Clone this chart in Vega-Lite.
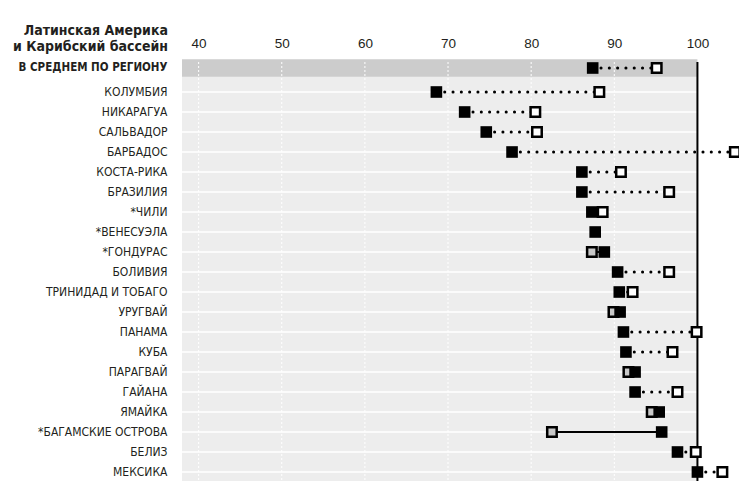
{
  "$schema": "https://vega.github.io/schema/vega-lite/v6.json",
  "width": 557,
  "height": 420,
  "autosize": "none",
  "padding": {"left": 182, "top": 62, "right": 0, "bottom": 0},
  "background": "white",
  "view": {"stroke": null},
  "title": {
    "text": ["Латинская Америка", "и Карибский бассейн"],
    "anchor": "start",
    "frame": "group",
    "align": "right",
    "orient": "top",
    "dx": -14,
    "dy": 18,
    "offset": 0,
    "font": "DejaVu Sans Condensed, Roboto",
    "fontWeight": "bold",
    "fontSize": 14,
    "lineHeight": 16,
    "color": "#231f20"
  },
  "datasets": {
    "rows": [
      {"name": "В СРЕДНЕМ ПО РЕГИОНУ", "v1": 87.4, "v2": 95.1, "kind": "up", "avg": true},
      {"name": "КОЛУМБИЯ", "v1": 68.6, "v2": 88.2, "kind": "up", "avg": false},
      {"name": "НИКАРАГУА", "v1": 72.0, "v2": 80.5, "kind": "up", "avg": false},
      {"name": "САЛЬВАДОР", "v1": 74.6, "v2": 80.7, "kind": "up", "avg": false},
      {"name": "БАРБАДОС", "v1": 77.7, "v2": 104.5, "kind": "up", "avg": false},
      {"name": "КОСТА-РИКА", "v1": 86.1, "v2": 90.8, "kind": "up", "avg": false},
      {"name": "БРАЗИЛИЯ", "v1": 86.1, "v2": 96.6, "kind": "up", "avg": false},
      {"name": "*ЧИЛИ", "v1": 87.3, "v2": 88.6, "kind": "up", "avg": false},
      {"name": "*ВЕНЕСУЭЛА", "v1": 87.7, "v2": null, "kind": "none", "avg": false},
      {"name": "*ГОНДУРАС", "v1": 88.8, "v2": 87.3, "kind": "down", "avg": false},
      {"name": "БОЛИВИЯ", "v1": 90.4, "v2": 96.6, "kind": "up", "avg": false},
      {"name": "ТРИНИДАД И ТОБАГО", "v1": 90.6, "v2": 92.2, "kind": "up", "avg": false},
      {"name": "УРУГВАЙ", "v1": 90.7, "v2": 89.9, "kind": "down", "avg": false},
      {"name": "ПАНАМА", "v1": 91.1, "v2": 99.9, "kind": "up", "avg": false},
      {"name": "КУБА", "v1": 91.4, "v2": 97.0, "kind": "up", "avg": false},
      {"name": "ПАРАГВАЙ", "v1": 92.5, "v2": 91.7, "kind": "down", "avg": false},
      {"name": "ГАЙАНА", "v1": 92.5, "v2": 97.6, "kind": "up", "avg": false},
      {"name": "ЯМАЙКА", "v1": 95.4, "v2": 94.5, "kind": "down", "avg": false},
      {"name": "*БАГАМСКИЕ ОСТРОВА", "v1": 95.7, "v2": 82.5, "kind": "down", "avg": false},
      {"name": "БЕЛИЗ", "v1": 97.6, "v2": 99.8, "kind": "up", "avg": false},
      {"name": "МЕКСИКА", "v1": 100.0, "v2": 103.0, "kind": "up", "avg": false}
    ],
    "grid": [{"v": 40}, {"v": 50}, {"v": 60}, {"v": 70}, {"v": 80}, {"v": 90}],
    "one": [{"v": 100}]
  },
  "layer": [
    {
      "data": {"name": "one"},
      "mark": {"type": "rect", "fill": "#ededed"},
      "encoding": {
        "x": {"datum": 38, "type": "quantitative", "scale": {"domain": [38, 105], "nice": false, "zero": false},
          "axis": {"orient": "top", "values": [40, 50, 60, 70, 80, 90, 100], "domain": false, "ticks": false, "grid": false, "title": null,
            "labelFont": "Liberation Sans, Roboto", "labelFontSize": 13.5, "labelColor": "#231f20", "labelPadding": 12}},
        "x2": {"datum": 100}
      }
    },
    {
      "data": {"name": "rows"},
      "transform": [{"filter": "datum.avg"}],
      "mark": {"type": "rect", "fill": "#cccccc", "height": {"band": 0.885}, "yOffset": -4},
      "encoding": {
        "y": {"field": "name", "type": "nominal",
          "scale": {"domain": ["В СРЕДНЕМ ПО РЕГИОНУ", "КОЛУМБИЯ", "НИКАРАГУА", "САЛЬВАДОР", "БАРБАДОС", "КОСТА-РИКА", "БРАЗИЛИЯ", "*ЧИЛИ", "*ВЕНЕСУЭЛА", "*ГОНДУРАС", "БОЛИВИЯ", "ТРИНИДАД И ТОБАГО", "УРУГВАЙ", "ПАНАМА", "КУБА", "ПАРАГВАЙ", "ГАЙАНА", "ЯМАЙКА", "*БАГАМСКИЕ ОСТРОВА", "БЕЛИЗ", "МЕКСИКА"], "paddingInner": 0, "paddingOuter": 0},
          "axis": {"orient": "left", "title": null, "domain": false, "ticks": false, "grid": false, "labelPadding": 15,
            "labelFont": "DejaVu Sans Condensed, Roboto", "labelColor": "#231f20",
            "labelOffset": {"condition": {"test": "datum.value === 'В СРЕДНЕМ ПО РЕГИОНУ'", "value": -4}, "value": 0},
            "labelFontSize": {"condition": {"test": "datum.value === 'В СРЕДНЕМ ПО РЕГИОНУ'", "value": 11.5}, "value": 12},
            "labelFontWeight": {"condition": {"test": "datum.value === 'В СРЕДНЕМ ПО РЕГИОНУ'", "value": "bold"}, "value": "normal"}}},
        "x": {"datum": 38, "type": "quantitative"},
        "x2": {"datum": 100}
      }
    },
    {
      "data": {"name": "grid"},
      "mark": {"type": "rule", "stroke": "white", "strokeWidth": 1, "strokeDash": [2, 2]},
      "encoding": {"x": {"field": "v", "type": "quantitative"}}
    },
    {
      "data": {"name": "rows"},
      "transform": [{"filter": "!datum.avg"}],
      "mark": {"type": "rule", "stroke": "white", "strokeWidth": 1.5},
      "encoding": {
        "y": {"field": "name", "type": "nominal"},
        "x": {"datum": 38, "type": "quantitative"},
        "x2": {"datum": 100}
      }
    },
    {
      "data": {"name": "one"},
      "mark": {"type": "rule", "stroke": "black", "strokeWidth": 2},
      "encoding": {"x": {"field": "v", "type": "quantitative"}}
    },
    {
      "data": {"name": "rows"},
      "transform": [{"filter": "datum.kind === 'up' && !datum.avg"}],
      "mark": {"type": "rule", "stroke": "black", "strokeWidth": 3, "strokeCap": "round", "strokeDash": [0.1, 8.2]},
      "encoding": {
        "y": {"field": "name", "type": "nominal"},
        "x": {"field": "v1", "type": "quantitative"},
        "x2": {"field": "v2"}
      }
    },
    {
      "data": {"name": "rows"},
      "transform": [{"filter": "datum.avg"}],
      "mark": {"type": "rule", "stroke": "black", "strokeWidth": 3, "strokeCap": "round", "strokeDash": [0.1, 8.2], "yOffset": -4},
      "encoding": {
        "y": {"field": "name", "type": "nominal"},
        "x": {"field": "v1", "type": "quantitative"},
        "x2": {"field": "v2"}
      }
    },
    {
      "data": {"name": "rows"},
      "transform": [{"filter": "datum.kind === 'down'"}],
      "mark": {"type": "rule", "stroke": "black", "strokeWidth": 2},
      "encoding": {
        "y": {"field": "name", "type": "nominal"},
        "x": {"field": "v1", "type": "quantitative"},
        "x2": {"field": "v2"}
      }
    },
    {
      "data": {"name": "rows"},
      "transform": [{"filter": "datum.kind === 'down'"}],
      "mark": {"type": "point", "shape": "square", "filled": true, "fill": "#c8c8c8", "stroke": "black", "strokeWidth": 2.5, "size": 90, "opacity": 1},
      "encoding": {
        "y": {"field": "name", "type": "nominal"},
        "x": {"field": "v2", "type": "quantitative"}
      }
    },
    {
      "data": {"name": "rows"},
      "transform": [{"filter": "!datum.avg"}],
      "mark": {"type": "point", "shape": "square", "filled": true, "fill": "black", "strokeWidth": 0, "size": 135, "opacity": 1},
      "encoding": {
        "y": {"field": "name", "type": "nominal"},
        "x": {"field": "v1", "type": "quantitative"}
      }
    },
    {
      "data": {"name": "rows"},
      "transform": [{"filter": "datum.avg"}],
      "mark": {"type": "point", "shape": "square", "filled": true, "fill": "black", "strokeWidth": 0, "size": 135, "opacity": 1, "yOffset": -4},
      "encoding": {
        "y": {"field": "name", "type": "nominal"},
        "x": {"field": "v1", "type": "quantitative"}
      }
    },
    {
      "data": {"name": "rows"},
      "transform": [{"filter": "datum.kind === 'up' && !datum.avg"}],
      "mark": {"type": "point", "shape": "square", "filled": true, "fill": "white", "stroke": "black", "strokeWidth": 2.5, "size": 90, "opacity": 1},
      "encoding": {
        "y": {"field": "name", "type": "nominal"},
        "x": {"field": "v2", "type": "quantitative"}
      }
    },
    {
      "data": {"name": "rows"},
      "transform": [{"filter": "datum.avg"}],
      "mark": {"type": "point", "shape": "square", "filled": true, "fill": "white", "stroke": "black", "strokeWidth": 2.5, "size": 90, "opacity": 1, "yOffset": -4},
      "encoding": {
        "y": {"field": "name", "type": "nominal"},
        "x": {"field": "v2", "type": "quantitative"}
      }
    }
  ]
}
